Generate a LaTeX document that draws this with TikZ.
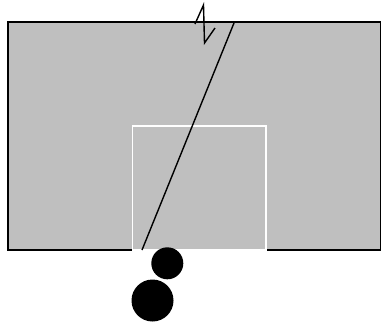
\documentclass[tikz,border=0pt]{standalone}
\usepackage{tikz}

\begin{document}
\begin{tikzpicture}[
  x=1pt, y=-1pt,
  panel/.style={draw=black, fill=black!25, line width=1.6pt},
  frame/.style={draw=white, line width=1.4pt},
  crack/.style={draw=black, line width=1.4pt, line join=miter},
  ball/.style={fill=black},
]
\useasboundingbox (0,0) rectangle (383,322);
% ================= PANEL =================
\path[panel] (8,22) rectangle (380.5,250);
\path[frame] (132.5,126) rectangle (266,250);
% ================= CRACK =================
\coordinate (k1) at (195,24);
\coordinate (k2) at (203.5,5);
\coordinate (k3) at (204.5,43);
\coordinate (k4) at (215,28);
\coordinate (ctop) at (234,23);
\coordinate (cbot) at (142,250);
\draw[crack] (k1) -- (k2) -- (k3) -- (k4);
\draw[crack] (ctop) -- (cbot);
% ================= BALLS =================
\path[ball] (167.3,263.3) circle[radius=16];
\path[ball] (152.5,300.5) circle[radius=21];
\end{tikzpicture}
\end{document}
